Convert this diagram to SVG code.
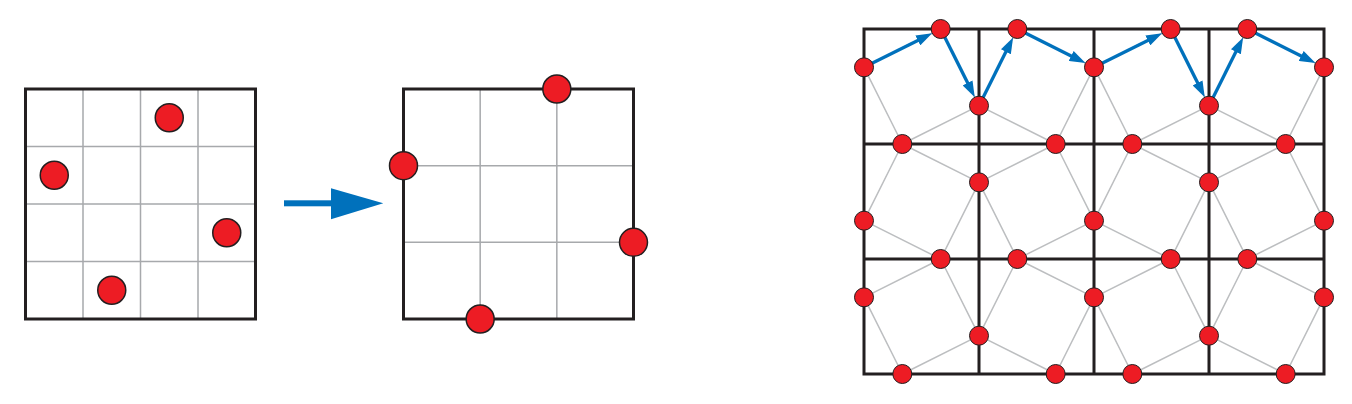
<svg xmlns="http://www.w3.org/2000/svg" width="1352" height="404" viewBox="0 0 1352 404">
<style>
.bg{fill:#ffffff}
.frame{fill:none;stroke:#231F20;stroke-width:3}
.thin{stroke:#A7A9AC;stroke-width:1.5;fill:none}
.big{fill:#ED1C24;stroke:#231F20;stroke-width:1.5}
.dot{fill:#ED1C24;stroke:#231F20;stroke-width:1}
.tile{fill:none;stroke:#BCBEC0;stroke-width:1.5;stroke-linejoin:round}
.grid{fill:none;stroke:#231F20;stroke-width:3}
.arr{fill:none;stroke:#0071BC;stroke-width:3.3;marker-end:url(#head)}
</style>
<defs>
<marker id="head" viewBox="0 0 16 11" refX="5" refY="5.5" markerWidth="16" markerHeight="11" markerUnits="userSpaceOnUse" orient="auto">
<path d="M0,0 L16,5.5 L0,11 z" fill="#0071BC"/>
</marker>
</defs>
<rect class="bg" x="0" y="0" width="1352" height="404"/>

<!-- Left 4x4 grid -->
<g id="grid-left">
<path class="thin" d="M83,89V319M140.5,89V319M198,89V319M25.5,146.5H255.5M25.5,204H255.5M25.5,261.5H255.5"/>
<rect class="frame" x="25.5" y="89" width="230" height="230"/>
</g>
<g id="left-p1"><circle class="big" cx="169.25" cy="117.75" r="14"/></g>
<g id="left-p2"><circle class="big" cx="54.25" cy="175.25" r="14"/></g>
<g id="left-p3"><circle class="big" cx="226.75" cy="232.75" r="14"/></g>
<g id="left-p4"><circle class="big" cx="111.75" cy="290.25" r="14"/></g>

<!-- Middle arrow -->
<g id="transform-arrow">
<rect x="284" y="200.3" width="48" height="6" fill="#0071BC"/>
<polygon points="331,188.3 383.3,203.3 331,219.3" fill="#0071BC"/>
</g>

<!-- Middle 3x3 square -->
<g id="grid-middle">
<path class="thin" d="M480.17,89V319M556.83,89V319M403.5,165.67H633.5M403.5,242.33H633.5"/>
<rect class="frame" x="403.5" y="89" width="230" height="230"/>
</g>
<g id="mid-p1"><circle class="big" cx="556.83" cy="89" r="14"/></g>
<g id="mid-p2"><circle class="big" cx="403.5" cy="165.67" r="14"/></g>
<g id="mid-p3"><circle class="big" cx="633.5" cy="242.33" r="14"/></g>
<g id="mid-p4"><circle class="big" cx="480.17" cy="319" r="14"/></g>

<!-- Right tiling -->
<g id="connectors">
<g id="tiles">
<polygon class="tile" points="940.67,29 979,105.67 902.33,144 864,67.33"/>
<polygon class="tile" points="1017.33,29 1094,67.33 1055.67,144 979,105.67"/>
<polygon class="tile" points="1170.67,29 1209,105.67 1132.33,144 1094,67.33"/>
<polygon class="tile" points="1247.33,29 1324,67.33 1285.67,144 1209,105.67"/>
<polygon class="tile" points="902.33,144 979,182.33 940.67,259 864,220.67"/>
<polygon class="tile" points="1055.67,144 1094,220.67 1017.33,259 979,182.33"/>
<polygon class="tile" points="1132.33,144 1209,182.33 1170.67,259 1094,220.67"/>
<polygon class="tile" points="1285.67,144 1324,220.67 1247.33,259 1209,182.33"/>
<polygon class="tile" points="940.67,259 979,335.67 902.33,374 864,297.33"/>
<polygon class="tile" points="1017.33,259 1094,297.33 1055.67,374 979,335.67"/>
<polygon class="tile" points="1170.67,259 1209,335.67 1132.33,374 1094,297.33"/>
<polygon class="tile" points="1247.33,259 1324,297.33 1285.67,374 1209,335.67"/>
</g>
<path id="square-grid" class="grid" d="M979,29V374M1094,29V374M1209,29V374M864,144H1324M864,259H1324"/>
<rect class="grid" x="864" y="29" width="460" height="345"/>
<g id="path-arrows">
<path class="arr" d="M864,67.33L922.33,38.17"/>
<path class="arr" d="M940.67,29L969.83,87.33"/>
<path class="arr" d="M979,105.67L1008.16,47.34"/>
<path class="arr" d="M1017.33,29L1075.66,58.16"/>
<path class="arr" d="M1094,67.33L1152.33,38.17"/>
<path class="arr" d="M1170.67,29L1199.83,87.33"/>
<path class="arr" d="M1209,105.67L1238.16,47.34"/>
<path class="arr" d="M1247.33,29L1305.66,58.16"/>
</g>
</g>

<g id="n-r0-1"><circle class="dot" cx="940.67" cy="29" r="9.5"/></g>
<g id="n-r0-2"><circle class="dot" cx="1017.33" cy="29" r="9.5"/></g>
<g id="n-r0-3"><circle class="dot" cx="1170.67" cy="29" r="9.5"/></g>
<g id="n-r0-4"><circle class="dot" cx="1247.33" cy="29" r="9.5"/></g>
<g id="n-r1-1"><circle class="dot" cx="864" cy="67.33" r="9.5"/></g>
<g id="n-r1-2"><circle class="dot" cx="1094" cy="67.33" r="9.5"/></g>
<g id="n-r1-3"><circle class="dot" cx="1324" cy="67.33" r="9.5"/></g>
<g id="n-r2-1"><circle class="dot" cx="979" cy="105.67" r="9.5"/></g>
<g id="n-r2-2"><circle class="dot" cx="1209" cy="105.67" r="9.5"/></g>
<g id="n-r3-1"><circle class="dot" cx="902.33" cy="144" r="9.5"/></g>
<g id="n-r3-2"><circle class="dot" cx="1055.67" cy="144" r="9.5"/></g>
<g id="n-r3-3"><circle class="dot" cx="1132.33" cy="144" r="9.5"/></g>
<g id="n-r3-4"><circle class="dot" cx="1285.67" cy="144" r="9.5"/></g>
<g id="n-r4-1"><circle class="dot" cx="979" cy="182.33" r="9.5"/></g>
<g id="n-r4-2"><circle class="dot" cx="1209" cy="182.33" r="9.5"/></g>
<g id="n-r5-1"><circle class="dot" cx="864" cy="220.67" r="9.5"/></g>
<g id="n-r5-2"><circle class="dot" cx="1094" cy="220.67" r="9.5"/></g>
<g id="n-r5-3"><circle class="dot" cx="1324" cy="220.67" r="9.5"/></g>
<g id="n-r6-1"><circle class="dot" cx="940.67" cy="259" r="9.5"/></g>
<g id="n-r6-2"><circle class="dot" cx="1017.33" cy="259" r="9.5"/></g>
<g id="n-r6-3"><circle class="dot" cx="1170.67" cy="259" r="9.5"/></g>
<g id="n-r6-4"><circle class="dot" cx="1247.33" cy="259" r="9.5"/></g>
<g id="n-r7-1"><circle class="dot" cx="864" cy="297.33" r="9.5"/></g>
<g id="n-r7-2"><circle class="dot" cx="1094" cy="297.33" r="9.5"/></g>
<g id="n-r7-3"><circle class="dot" cx="1324" cy="297.33" r="9.5"/></g>
<g id="n-r8-1"><circle class="dot" cx="979" cy="335.67" r="9.5"/></g>
<g id="n-r8-2"><circle class="dot" cx="1209" cy="335.67" r="9.5"/></g>
<g id="n-r9-1"><circle class="dot" cx="902.33" cy="374" r="9.5"/></g>
<g id="n-r9-2"><circle class="dot" cx="1055.67" cy="374" r="9.5"/></g>
<g id="n-r9-3"><circle class="dot" cx="1132.33" cy="374" r="9.5"/></g>
<g id="n-r9-4"><circle class="dot" cx="1285.67" cy="374" r="9.5"/></g>
</svg>
